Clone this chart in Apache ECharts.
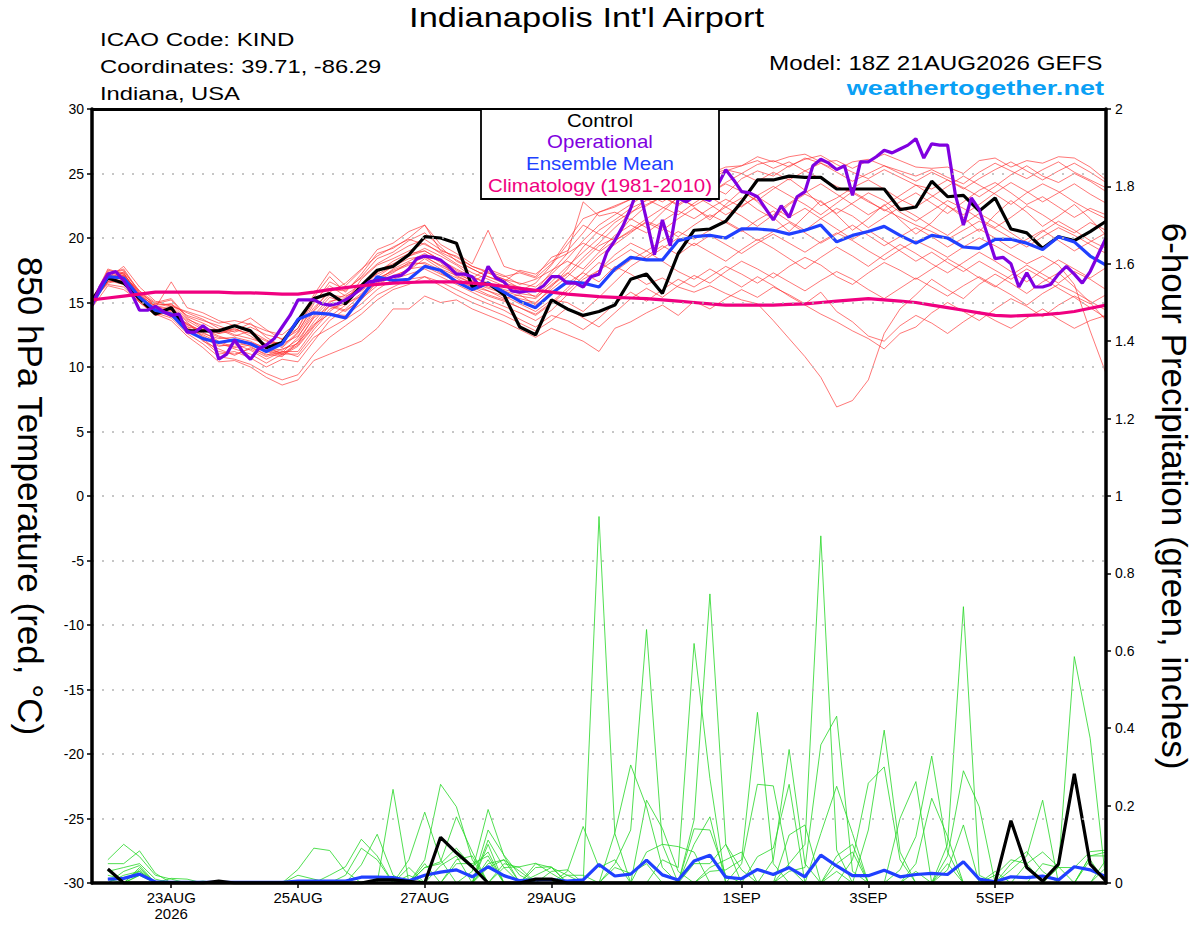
<!DOCTYPE html>
<html><head><meta charset="utf-8">
<script src="https://cdn.jsdelivr.net/npm/echarts@6/dist/echarts.min.js"></script>
<style>html,body{margin:0;padding:0;background:#fff}#c{width:1200px;height:927px}</style>
</head><body><div id="c"></div>
<script>
const FONT = "'Liberation Sans', Arial, Helvetica, sans-serif";

// ---- x axis ticks (hours after 18Z 21AUG2026) ----
const xTickHours = [30, 78, 126, 174, 246, 294, 342];
const xTickLabels = ['23AUG\n2026', '25AUG', '27AUG', '29AUG', '1SEP', '3SEP', '5SEP'];

// ---- 850 hPa temperature, 6-hourly (hour 0..384) ----
const control = [15.2,16.9,16.5,15.3,14.1,14.6,12.8,12.8,12.8,13.2,12.8,11.5,11.9,
 13.6,15.3,15.7,14.9,16.3,17.5,17.8,18.7,20.1,20.0,19.6,16.2,16.5,
 15.6,13.1,12.5,15.2,14.5,14.0,14.3,14.8,16.8,17.2,15.7,18.8,20.6,
 20.7,21.3,22.8,24.5,24.5,24.8,24.7,24.7,23.8,23.8,23.8,23.8,22.2,
 22.4,24.4,23.2,23.3,22.1,23.1,20.7,20.4,19.2,20.1,19.8,20.5,21.3];
const ensMean = [14.8,17.0,16.9,15.4,14.4,14.1,12.8,12.2,11.9,12.1,11.8,11.2,11.8,
 13.7,14.2,14.1,13.8,15.4,17.0,16.7,16.8,17.8,17.5,16.6,16.0,16.5,
 15.8,15.1,14.6,15.7,16.6,16.5,16.2,17.6,18.5,18.3,18.3,19.8,20.1,
 20.2,20.0,20.7,20.7,20.6,20.3,20.6,21.0,19.7,20.2,20.5,20.9,20.2,
 19.6,20.2,20.0,19.3,19.2,19.9,19.9,19.6,19.1,20.1,19.7,18.6,17.9];
const climatology = [15.2,15.35,15.5,15.65,15.8,15.8,15.8,15.8,15.8,15.75,15.75,15.7,15.65,
 15.65,15.8,16.0,16.15,16.3,16.4,16.5,16.55,16.6,16.6,16.6,16.5,16.4,
 16.25,16.1,15.95,15.8,15.65,15.55,15.45,15.4,15.35,15.3,15.2,15.1,15.0,
 14.9,14.8,14.8,14.8,14.8,14.85,14.9,15.0,15.1,15.2,15.3,15.2,15.1,
 15.0,14.8,14.6,14.4,14.2,14.0,13.95,14.0,14.05,14.15,14.3,14.55,14.8];
// operational run, 3-hourly (hour 0..384)
const operational = [14.8,16.2,17.2,17.4,16.7,15.7,14.4,14.4,14.7,14.3,14.0,14.1,12.7,12.7,13.2,12.7,
 10.6,11.0,12.1,11.2,10.6,11.4,11.7,12.2,13.1,14.0,15.2,15.2,15.2,14.9,14.8,14.9,
 15.2,15.6,16.1,16.6,16.7,16.8,17.0,17.1,17.6,18.4,18.6,18.5,18.3,17.8,17.2,17.2,
 17.0,16.2,17.8,16.9,16.6,15.9,15.8,15.9,15.9,16.3,17.0,17.0,16.5,16.5,16.2,17.0,
 17.2,18.9,19.8,20.9,22.3,24.0,21.4,18.7,21.4,19.4,23.1,22.8,23.2,23.1,22.9,24.1,
 25.3,24.5,23.6,23.5,23.2,22.3,21.4,22.5,21.6,23.2,23.6,25.6,26.1,25.8,25.3,25.6,
 23.3,25.9,25.9,26.3,26.8,26.6,26.9,27.2,27.7,26.2,27.3,27.2,27.2,23.3,21.0,23.1,
 22.2,20.3,18.4,18.5,18.0,16.2,17.3,16.2,16.2,16.4,17.2,17.8,17.2,16.5,17.4,18.7,
 20.0];

// ensemble members (20), 6-hourly
const tm1 = [15.1,17.2,17.6,15.8,14.9,15.2,13.8,13.0,12.4,12.0,11.6,10.9,11.4,
 11.8,13.5,15.0,15.6,16.4,17.2,17.8,18.6,19.2,18.6,17.9,17.0,16.4,
 15.8,15.1,14.9,16.2,17.6,19.3,20.6,21.4,22.3,22.9,23.6,24.1,24.6,
 24.9,25.3,25.0,25.7,26.0,25.5,26.2,25.8,25.3,25.9,26.1,25.6,25.2,
 24.8,25.3,24.7,24.2,25.1,25.8,25.2,24.6,25.3,25.9,25.1,24.5,23.9];
const tm2 = [14.8,17.5,17.3,15.4,14.5,14.2,13.3,12.8,12.9,12.4,12.8,12.1,11.5,
 12.6,14.4,16.0,15.9,17.0,18.4,18.9,19.8,20.4,19.3,18.2,17.6,17.0,
 16.5,16.2,15.9,17.4,18.8,22.8,21.7,22.0,21.4,22.5,23.2,22.6,23.5,
 24.0,23.4,24.6,25.2,24.8,25.6,26.1,26.4,25.7,25.1,24.6,25.3,24.7,
 24.1,23.8,24.5,23.9,23.2,24.0,24.9,25.6,24.8,24.3,25.0,24.4,23.6];
const tm3 = [15.3,16.8,17.1,15.6,14.3,14.6,13.5,12.3,11.6,11.8,11.3,10.6,11.2,
 11.2,12.9,14.3,15.2,15.9,16.8,17.5,18.0,18.5,17.9,17.4,16.6,17.3,
 16.8,16.1,15.4,16.3,17.2,18.5,19.6,20.8,21.9,23.0,22.4,21.8,22.7,
 23.5,24.2,23.6,22.9,23.8,24.6,23.7,22.5,23.1,23.9,24.5,23.8,23.0,
 22.4,23.2,24.0,24.8,24.1,23.4,22.6,23.5,24.2,23.6,22.8,22.1,21.5];
const tm4 = [15.0,17.0,16.6,15.2,14.8,14.9,14.0,13.6,13.2,12.7,13.1,12.5,12.2,
 13.0,15.1,16.3,15.5,16.0,17.3,18.2,18.8,19.0,18.3,17.5,16.9,17.6,
 17.1,16.4,16.8,17.5,18.2,17.6,18.9,19.8,20.5,21.2,20.6,21.5,22.3,
 21.6,22.4,23.1,22.2,21.5,22.6,23.4,22.8,21.9,22.7,23.5,22.9,22.0,
 21.3,22.1,22.9,22.3,21.5,20.8,21.6,22.5,21.8,21.0,20.4,21.2,20.6];
const tm5 = [14.9,16.6,17.4,15.9,14.7,14.0,12.9,12.1,11.0,11.2,10.7,10.0,10.6,
 10.4,12.0,13.6,14.5,15.6,16.5,17.0,17.6,17.8,17.2,16.7,16.2,15.6,
 15.2,14.6,14.1,15.0,16.1,17.4,18.6,19.5,20.4,21.3,20.8,20.1,21.0,
 21.8,21.2,20.5,21.4,22.1,21.3,20.6,21.5,22.3,21.7,20.8,21.6,22.4,
 21.7,20.9,20.2,21.1,21.9,21.2,20.4,19.6,20.5,21.3,20.6,19.8,19.2];
const tm6 = [15.2,16.4,16.2,15.0,14.2,13.8,12.6,11.8,10.8,10.6,10.2,9.5,9.0,
 9.4,11.0,12.3,13.2,14.1,15.2,16.0,16.4,17.0,16.3,15.6,15.0,14.5,
 14.0,13.4,12.8,13.6,14.6,13.8,13.1,14.2,15.3,16.1,15.4,16.3,17.1,
 16.5,17.4,18.2,17.6,16.9,17.8,18.5,17.9,17.0,16.4,17.3,18.1,17.5,
 16.8,17.6,18.4,17.7,16.9,16.2,17.1,17.9,17.2,16.5,17.4,16.8,16.0];
const tm7 = [15.0,17.1,16.9,15.5,14.4,14.1,13.0,12.5,11.9,11.4,11.0,10.3,11.0,
 11.0,12.6,13.9,14.8,15.7,16.9,17.4,17.9,18.1,17.5,16.9,16.2,15.9,
 15.3,15.6,14.8,15.7,16.5,17.3,16.6,17.8,17.2,16.4,16.9,16.2,15.8,
 16.3,15.7,15.2,14.9,13.6,12.2,10.8,9.2,6.9,7.4,9.0,12.6,14.5,
 15.6,16.8,16.0,15.3,16.4,17.2,16.5,15.7,16.6,17.3,16.2,15.0,13.6];
const tm8 = [14.7,16.9,17.8,16.2,15.1,14.7,14.3,13.9,13.4,13.6,13.3,12.8,12.5,
 13.5,15.6,17.4,16.3,17.5,19.1,19.6,20.5,21.0,19.5,18.8,18.0,20.6,
 17.8,17.4,17.0,18.5,19.0,20.4,22.0,22.5,23.0,23.8,24.4,24.0,24.8,
 25.0,25.5,25.6,26.3,25.9,26.3,26.5,25.9,26.0,25.4,26.0,26.5,26.0,
 25.5,25.4,25.5,25.0,26.0,26.2,25.5,26.0,25.8,26.3,26.2,25.5,24.5];
const tm9 = [15.4,16.5,16.8,15.3,14.0,14.4,13.2,12.0,11.4,10.9,11.5,11.0,10.8,
 11.9,13.3,14.1,14.0,14.9,16.0,16.8,17.2,17.6,17.0,16.4,15.8,15.2,
 14.7,14.2,13.6,14.4,15.6,16.8,17.5,18.3,19.1,18.4,19.2,20.0,19.4,
 20.2,19.5,18.8,19.6,20.3,19.6,18.9,19.7,20.4,19.8,19.0,18.3,19.1,
 19.8,19.2,18.5,19.3,20.0,19.4,18.7,18.0,18.6,17.9,16.4,12.8,9.5];
const tm10 = [15.1,17.6,17.2,15.7,14.6,16.6,14.6,14.2,13.6,13.2,13.8,12.9,12.1,
 12.8,14.6,15.8,16.5,17.6,18.6,19.3,19.9,19.5,18.9,18.3,17.6,17.0,
 16.6,17.5,17.2,18.2,18.8,19.6,19.0,20.2,21.0,20.4,21.3,22.1,21.5,
 22.3,23.0,22.4,23.3,24.0,23.3,22.6,21.8,22.7,23.6,22.9,22.1,22.8,
 23.5,22.7,21.9,22.8,23.7,24.3,23.5,22.6,23.2,22.4,21.6,22.3,21.8];
const tm11 = [14.6,16.3,16.0,15.1,14.1,13.6,12.4,11.5,10.4,10.5,10.0,9.2,8.6,
 9.0,10.5,11.0,11.5,12.0,13.0,14.5,14.5,15.5,15.0,15.2,14.5,14.0,
 13.5,12.9,12.3,13.0,12.5,12.0,11.2,13.0,13.5,14.2,14.8,14.0,15.1,
 14.5,15.3,16.0,15.4,16.2,15.6,14.9,15.8,14.3,13.5,12.4,12.0,13.2,
 14.0,13.4,12.6,13.5,14.3,13.6,13.0,13.8,14.5,13.7,13.0,13.6,14.0];
const tm12 = [15.3,17.4,17.0,15.9,15.0,15.3,13.9,13.4,12.8,12.9,12.6,12.0,11.8,
 12.4,14.0,15.4,15.0,16.8,17.9,18.4,19.0,19.6,18.8,18.0,17.3,16.8,
 16.3,15.9,16.5,17.9,19.5,21.0,20.3,19.8,20.6,21.5,22.3,23.1,22.5,
 23.2,22.4,21.7,20.9,21.8,22.7,23.5,24.2,23.4,22.6,21.8,22.5,23.3,
 24.1,23.3,22.5,21.8,22.6,23.5,24.3,23.6,22.8,23.5,24.2,23.4,22.7];
const tm13 = [14.9,16.7,16.4,15.3,14.4,13.9,13.1,12.9,12.3,12.1,11.9,11.5,11.3,
 12.1,13.8,14.7,14.3,15.3,16.3,17.1,17.5,18.4,17.6,17.1,16.5,15.9,
 15.5,14.9,14.3,15.2,15.0,14.3,15.4,16.6,17.8,18.6,19.4,18.7,19.6,
 18.9,18.2,19.1,19.9,19.2,18.4,17.6,18.5,19.3,18.6,17.8,18.7,19.5,
 18.8,18.0,17.3,18.1,18.9,18.2,17.4,16.6,17.5,18.3,17.6,16.9,17.7];
const tm14 = [15.0,17.0,16.8,15.0,14.0,14.3,12.8,12.2,11.2,11.0,11.4,10.8,11.2,
 10.8,12.3,13.0,13.7,14.5,15.6,16.2,16.8,17.0,16.6,16.0,15.4,14.9,
 14.4,13.7,13.1,14.0,13.6,12.9,13.8,14.9,15.8,15.1,16.0,16.8,16.2,
 17.0,17.8,17.2,16.5,17.3,16.6,15.9,16.7,17.4,16.8,16.0,15.3,16.1,
 16.9,16.2,15.5,16.3,17.0,16.3,15.6,14.8,15.7,16.4,15.8,15.1,14.4];
const tm15 = [15.2,16.9,17.3,15.5,14.8,14.0,13.4,12.7,12.0,11.5,11.7,11.2,10.9,
 11.6,13.1,14.5,14.9,15.5,16.7,17.3,18.1,18.0,17.3,16.6,16.0,15.5,
 15.1,14.6,14.0,14.9,15.9,17.0,18.1,17.4,18.3,19.0,18.2,17.4,16.8,
 17.6,16.9,16.2,17.0,16.3,15.5,14.8,14.1,13.5,12.8,12.2,11.4,12.6,
 13.1,14.2,15.0,14.3,13.6,14.5,15.3,14.7,13.9,14.8,15.5,14.9,15.6];
const tm16 = [14.8,17.3,17.5,15.7,14.9,14.8,14.2,13.7,13.0,12.5,12.2,11.8,11.9,
 13.0,15.4,17.0,15.8,17.2,18.8,19.2,20.0,21.0,19.0,18.6,17.8,17.4,
 17.0,17.3,16.9,18.0,19.8,21.5,22.0,22.4,23.0,23.4,24.0,24.5,24.1,
 24.6,25.2,25.6,26.0,25.4,25.9,25.2,24.6,24.0,23.5,22.8,22.2,21.6,
 21.0,20.5,19.9,20.6,21.3,20.7,20.0,19.3,20.1,20.8,20.2,19.5,18.8];
const tm17 = [15.1,16.8,17.0,15.4,14.5,14.7,13.6,12.9,12.6,13.0,12.4,11.6,11.0,
 11.7,13.2,14.8,14.4,15.2,16.6,17.6,18.2,18.8,18.1,17.0,16.5,16.1,
 15.7,15.3,15.0,16.0,17.0,18.2,19.4,20.0,21.5,20.8,22.0,23.2,22.4,
 21.4,22.6,23.7,22.8,21.6,20.5,21.7,22.9,21.8,20.6,21.5,22.6,21.4,
 20.3,21.2,22.5,21.6,20.5,21.8,22.9,22.0,20.9,21.7,22.6,21.5,20.2];
const tm18 = [15.0,16.6,16.7,15.1,14.2,14.5,13.0,12.4,11.7,11.6,11.9,11.3,11.0,
 11.9,13.9,15.1,15.3,16.1,17.0,17.8,18.4,18.6,17.8,17.2,16.7,16.2,
 15.9,15.5,15.3,16.4,17.3,16.5,17.5,18.7,19.6,19.0,19.8,20.5,19.9,
 20.6,21.3,20.6,19.8,20.5,21.2,20.4,19.6,20.3,21.0,20.2,19.4,20.1,
 20.8,20.1,19.3,20.0,20.7,20.0,19.2,19.9,20.6,19.8,19.0,19.7,20.4];
const tm19 = [15.3,17.1,17.2,15.6,14.7,14.4,13.3,12.6,12.2,12.3,12.0,11.4,11.1,
 12.3,14.3,15.6,15.4,16.3,17.5,18.0,18.6,19.0,18.3,17.6,17.0,16.5,
 16.0,15.7,15.5,16.6,17.8,18.9,20.0,21.2,22.0,22.6,23.2,22.5,23.3,
 22.6,21.8,22.5,23.2,22.4,21.6,22.3,21.5,20.7,19.9,20.6,19.8,19.0,
 18.2,18.9,18.1,17.4,18.2,17.5,16.8,17.6,16.9,16.1,15.4,14.6,13.8];
const tm20 = [14.9,17.0,17.1,15.3,14.6,14.9,13.7,13.2,12.6,12.8,13.4,12.3,11.6,
 12.7,14.9,16.6,16.0,16.9,18.0,18.7,19.4,19.9,19.1,18.5,17.8,17.3,
 16.8,16.5,16.2,17.2,18.4,19.8,21.0,21.8,22.6,23.4,22.8,23.6,24.2,
 23.5,24.3,25.0,24.4,25.1,24.5,25.2,25.8,25.1,24.4,25.0,25.6,25.0,
 24.4,25.1,24.5,23.8,24.6,25.3,25.9,25.2,24.5,25.2,25.8,25.1,24.3];
const tempMembers = [tm1,tm2,tm3,tm4,tm5,tm6,tm7,tm8,tm9,tm10,tm11,tm12,tm13,tm14,tm15,tm16,tm17,tm18,tm19,tm20];

// ---- 6-hour precipitation (inches), hour 6..384 ----
const precipControl = [0.036,0,0,0,0,0,0,0.005,0,0,0,0,0,0,0,0,
 0,0.008,0.008,0.004,0,0.118,0.078,0.042,0,0,0,0.01,0.01,0,0,0,
 0,0,0,0,0,0,0,0,0,0,0,0,0,0,0,0,
 0,0,0,0,0,0,0,0,0,0.161,0.040,0.005,0.049,0.282,0.049,0.005];
const precipMean = [0.010,0.012,0.023,0.003,0.002,0.002,0.002,0.002,0.002,0.002,0.002,0.002,0.005,0.005,0.005,0.005,
 0.015,0.015,0.014,0.006,0.020,0.028,0.034,0.016,0.042,0.019,0.006,0.008,0.009,0.005,0.008,0.048,
 0.018,0.023,0.059,0.021,0.008,0.057,0.072,0.015,0.011,0.035,0.022,0.040,0.016,0.072,0.044,0.019,
 0.019,0.033,0.016,0.022,0.025,0.022,0.055,0.010,0.003,0.016,0.014,0.018,0.008,0.042,0.034,0.016];
const pm1 = [0.06,0.10,0.068,0.02,0.01,0,0.005,0,0,0,0,0,0,0,0,0,
 0,0,0,0,0,0.045,0.07,0,0,0,0,0,0,0,0,0,
 0.05,0.137,0.655,0.10,0,0,0,0,0,0,0,0,0,0,0,0.06,
 0.258,0.30,0.06,0,0,0,0,0,0,0,0,0,0,0,0,0];
const pm2 = [0.05,0.05,0.083,0.025,0,0,0,0,0,0,0,0,0,0,0,0,
 0,0,0,0,0,0,0.06,0.07,0,0,0,0,0,0,0,0,
 0.04,0.025,0.05,0,0,0,0,0,0,0,0,0,0,0,0,0,
 0.137,0.395,0.08,0,0,0,0,0,0,0,0,0,0,0,0,0];
const pm3 = [0.03,0.04,0.05,0.01,0,0,0,0,0,0,0,0,0,0,0,0,
 0,0,0,0,0,0,0.05,0.05,0.07,0,0,0,0,0,0,0,
 0,0,0.214,0.141,0.03,0,0,0,0,0,0,0,0,0,0,0,
 0,0,0.167,0.262,0,0.05,0,0,0,0,0,0,0,0,0,0];
const pm4 = [0.02,0.01,0.03,0,0,0,0,0,0,0,0,0,0,0,0,0,
 0,0,0,0,0,0,0,0.03,0.19,0.07,0,0,0,0,0,0,
 0,0,0.08,0.10,0.094,0.08,0,0,0,0,0,0,0,0,0,0,
 0,0,0.034,0.12,0.328,0.08,0,0,0,0,0,0,0,0,0,0];
const pm5 = [0.01,0,0.02,0,0,0,0,0,0,0,0,0,0,0,0,0,
 0,0,0,0,0,0,0,0,0.137,0.072,0.02,0,0,0,0,0,
 0,0,0,0.06,0.04,0.619,0.27,0,0,0,0,0,0,0,0,0,
 0,0,0,0.05,0.219,0.12,0,0,0,0,0,0,0,0,0,0];
const pm6 = [0,0.03,0.045,0,0,0,0,0,0,0,0,0,0,0,0,0,
 0,0,0,0,0,0,0,0,0.111,0.04,0,0,0,0,0,0,
 0,0,0,0,0,0.163,0.747,0.10,0,0,0,0,0,0,0,0,
 0,0,0,0.03,0,0.1,0.714,0.02,0,0,0,0,0,0,0,0];
const pm7 = [0,0.02,0.03,0,0,0,0,0,0,0,0,0,0,0,0,0,
 0,0,0,0,0,0,0,0,0.10,0,0,0,0,0,0,0,
 0,0,0,0,0,0.14,0.137,0.02,0,0,0,0,0,0,0,0,
 0,0,0,0,0,0.07,0.29,0.197,0,0,0,0,0,0,0,0];
const pm8 = [0,0,0.04,0,0.012,0.01,0,0,0,0,0,0,0,0,0,0,
 0,0,0,0,0,0,0,0,0.06,0,0,0,0,0,0,0,
 0,0,0,0,0,0.10,0.171,0,0,0,0,0,0,0,0,0,
 0,0,0,0,0,0.034,0.15,0,0.03,0,0,0,0,0,0,0];
const pm9 = [0,0,0.035,0,0,0,0,0,0,0,0,0,0,0,0,0,
 0,0,0,0,0,0,0,0,0.05,0.06,0,0,0,0,0,0,
 0,0,0,0,0,0.05,0.05,0.10,0.034,0,0,0,0,0,0,0,
 0,0,0,0,0,0,0,0,0.02,0.06,0.05,0,0,0,0,0];
const pm10 = [0,0,0.02,0,0,0,0,0,0,0,0,0,0,0,0,0,
 0,0,0,0,0,0,0,0,0.04,0.06,0.03,0,0,0,0,0,
 0,0,0,0,0,0,0.04,0.06,0.08,0,0,0,0,0,0,0,
 0,0,0,0,0,0,0,0,0,0.05,0.081,0.03,0,0,0,0];
const pm11 = [0,0,0,0,0,0,0,0,0,0,0,0,0.035,0.09,0.084,0.03,
 0,0,0,0,0,0,0,0,0,0.05,0.04,0,0,0,0,0,
 0,0,0,0,0,0,0.03,0.034,0.06,0.441,0.05,0,0,0,0,0,
 0,0,0,0,0,0,0,0,0,0.034,0.07,0.214,0,0,0,0];
const pm12 = [0,0,0,0,0,0,0,0,0,0,0,0,0.02,0.01,0,0,
 0,0,0,0,0,0,0,0,0,0.04,0.042,0.051,0.025,0,0,0,
 0,0,0,0,0,0,0,0,0.05,0.255,0.251,0.04,0,0,0,0,
 0,0,0,0,0,0,0,0,0,0,0.05,0.08,0.042,0,0.06,0];
const pm13 = [0,0,0,0,0,0,0,0,0,0,0,0,0,0,0.02,0.042,
 0.113,0.07,0,0.04,0,0,0,0,0,0,0,0.05,0.04,0,0,0,
 0,0,0,0,0,0,0,0,0,0.068,0.09,0.255,0,0,0,0,
 0,0,0,0,0,0,0,0,0,0,0,0.05,0.04,0.585,0.374,0];
const pm14 = [0,0,0,0,0,0,0,0,0,0,0,0,0,0,0,0.02,
 0.09,0.06,0,0.02,0,0,0,0,0,0,0,0.04,0.042,0,0,0,
 0,0,0,0,0,0,0,0,0,0,0.06,0.345,0.05,0,0,0,
 0,0,0,0,0,0,0,0,0,0,0,0,0.04,0.04,0.081,0.085];
const pm15 = [0,0,0,0,0,0,0,0,0,0,0,0,0,0,0,0,
 0.047,0.126,0.02,0,0,0,0,0,0,0,0,0.02,0.04,0.02,0,0,
 0,0,0,0,0,0,0,0,0,0,0,0.124,0.15,0,0.03,0,
 0,0,0,0,0,0,0,0,0,0,0,0,0,0,0.07,0.08];
const pm16 = [0,0,0,0,0,0,0,0,0,0,0,0,0,0,0,0,
 0,0,0.242,0,0.05,0,0,0,0,0,0,0,0.03,0.034,0,0,
 0,0,0,0,0,0,0,0,0,0,0,0.05,0.10,0.897,0.085,0,
 0,0,0,0,0,0,0,0,0,0,0,0,0,0,0.07,0.07];
const pm17 = [0,0,0,0,0,0,0,0,0,0,0,0,0,0,0,0,
 0,0,0,0.06,0.183,0.06,0,0,0,0,0,0,0,0.03,0.146,0.04,
 0.06,0,0,0,0,0,0,0,0,0,0,0.03,0.04,0.357,0.431,0.03,
 0,0,0,0,0,0,0,0,0,0,0,0,0,0,0,0.06];
const pm18 = [0,0,0,0,0,0,0,0,0,0,0,0,0,0,0,0,
 0,0,0,0,0.06,0.255,0.197,0.06,0,0,0,0,0,0.02,0.02,0,
 0,0,0,0,0,0,0,0,0,0,0,0,0,0.128,0.25,0.128,
 0,0,0,0,0,0,0,0,0,0,0,0,0,0,0,0.04];
const pm19 = [0,0,0,0,0,0,0,0,0,0,0,0,0,0,0,0,
 0,0,0,0,0.04,0.055,0.171,0.08,0,0,0,0,0,0,0,0.947,
 0.128,0,0,0,0,0,0,0,0,0,0,0,0,0,0.07,0.1,
 0,0,0,0,0,0,0,0,0,0,0,0,0,0,0,0];
const pm20 = [0,0,0,0,0,0,0,0,0,0,0,0,0,0,0,0,
 0,0,0,0,0.04,0.05,0.09,0.042,0.08,0,0,0,0,0,0,0,
 0.13,0.305,0.197,0.04,0,0,0,0,0,0,0,0,0,0,0.05,0.08,
 0,0,0,0,0,0,0,0,0,0,0,0,0,0,0,0];
const precipMembers = [pm1,pm2,pm3,pm4,pm5,pm6,pm7,pm8,pm9,pm10,pm11,pm12,pm13,pm14,pm15,pm16,pm17,pm18,pm19,pm20];

// ---- chart ----
const C_CTRL = '#000000', C_OPER = '#8000e0', C_MEAN = '#2040ff', C_CLIM = '#f00080';
const temp6 = arr => arr.map((v, i) => [i * 6, v]);
const temp3 = arr => arr.map((v, i) => [i * 3, v]);
const prcp6 = arr => arr.map((v, i) => [(i + 1) * 6, v]);
const base = { type: 'line', symbol: 'none', showSymbol: false, silent: true, animation: false, clip: true, xAxisIndex: 0 };

const series = [];
tempMembers.forEach((m, k) => series.push(Object.assign({}, base, {
  name: 'Member ' + (k + 1), yAxisIndex: 0, data: temp6(m),
  lineStyle: { color: 'rgba(255,45,45,0.72)', width: 0.9 } })));
precipMembers.forEach((m, k) => series.push(Object.assign({}, base, {
  name: 'Precip member ' + (k + 1), yAxisIndex: 1, data: prcp6(m),
  lineStyle: { color: 'rgba(40,215,40,0.9)', width: 0.9 } })));
series.push(Object.assign({}, base, { name: 'Precip mean', yAxisIndex: 1, data: prcp6(precipMean), lineStyle: { color: C_MEAN, width: 3.2 } }));
series.push(Object.assign({}, base, { name: 'Precip control', yAxisIndex: 1, data: prcp6(precipControl), lineStyle: { color: C_CTRL, width: 3.2 } }));
series.push(Object.assign({}, base, { name: 'Control', yAxisIndex: 0, data: temp6(control), lineStyle: { color: C_CTRL, width: 3.2 } }));
series.push(Object.assign({}, base, { name: 'Ensemble Mean', yAxisIndex: 0, data: temp6(ensMean), lineStyle: { color: C_MEAN, width: 3.2 } }));
series.push(Object.assign({}, base, { name: 'Operational', yAxisIndex: 0, data: temp3(operational), lineStyle: { color: C_OPER, width: 3.2 } }));
series.push(Object.assign({}, base, { name: 'Climatology (1981-2010)', yAxisIndex: 0, data: temp6(climatology), lineStyle: { color: C_CLIM, width: 3.2 } }));

function txt(x, y, text, size, color, align, sx, bold) {
  return { type: 'text', x: x, y: y, scaleX: sx, scaleY: 1, z: 100, silent: true,
    style: { text: text, fill: color, font: (bold ? 'bold ' : '') + size + 'px ' + FONT,
      textAlign: align, align: align, textVerticalAlign: 'middle', verticalAlign: 'middle' } };
}

const option = {
  backgroundColor: '#ffffff',
  animation: false,
  grid: { left: 92, right: 94, top: 109, bottom: 44, show: false, containLabel: false, outerBoundsMode: 'none' },
  xAxis: [{
    type: 'value', min: 0, max: 384, position: 'bottom', z: 10,
    axisLine: { show: true, onZero: false, lineStyle: { color: '#000', width: 3.5 } },
    axisTick: { show: true, customValues: xTickHours, length: 5, inside: false, lineStyle: { color: '#000', width: 1.5 } },
    axisLabel: { customValues: xTickHours, color: '#000', fontSize: 15, fontFamily: FONT, margin: 6, lineHeight: 16,
      formatter: v => { const k = xTickHours.indexOf(Math.round(v)); return k >= 0 ? xTickLabels[k] : ''; } },
    splitLine: { show: false }
  }, {
    type: 'value', min: 0, max: 384, position: 'top', z: 10,
    axisLine: { show: true, onZero: false, lineStyle: { color: '#000', width: 3 } },
    axisTick: { show: false }, axisLabel: { show: false }, splitLine: { show: false }
  }],
  yAxis: [
    { type: 'value', min: -30, max: 30, interval: 5, position: 'left', z: 10,
      name: '850 hPa Temperature (red, °C)', nameLocation: 'middle', nameRotate: -90, nameGap: 44,
      nameTextStyle: { fontSize: 35, color: '#000', fontFamily: FONT },
      axisLine: { show: true, onZero: false, lineStyle: { color: '#000', width: 3.5 } },
      axisTick: { show: true, length: 5, lineStyle: { color: '#000', width: 1.5 } },
      axisLabel: { color: '#000', fontSize: 14, fontFamily: FONT, margin: 8 },
      splitLine: { show: true, lineStyle: { color: '#b4b4b4', width: 1.5, type: [2, 8] } } },
    { type: 'value', min: 0, max: 2, interval: 0.2, position: 'right', z: 10,
      name: '6-hour Precipitation (green, inches)', nameLocation: 'middle', nameRotate: -90, nameGap: 51,
      nameTextStyle: { fontSize: 35, color: '#000', fontFamily: FONT },
      axisLine: { show: true, onZero: false, lineStyle: { color: '#000', width: 3.5 } },
      axisTick: { show: true, length: 5, lineStyle: { color: '#000', width: 1.5 } },
      axisLabel: { color: '#000', fontSize: 14, fontFamily: FONT, margin: 9 },
      splitLine: { show: false } }
  ],
  graphic: [
    txt(586.5, 18, "Indianapolis Int'l Airport", 28, '#000', 'center', 1.23),
    txt(100, 39.5, 'ICAO Code: KIND', 19, '#000', 'left', 1.27),
    txt(100, 67, 'Coordinates: 39.71, -86.29', 19, '#000', 'left', 1.25),
    txt(100, 94, 'Indiana, USA', 19, '#000', 'left', 1.25),
    txt(1102.5, 63.5, 'Model: 18Z 21AUG2026 GEFS', 20, '#000', 'right', 1.21),
    txt(1104, 88, 'weathertogether.net', 21, '#0aa0f5', 'right', 1.29, true),
    { type: 'rect', z: 99, silent: true, shape: { x: 481, y: 109, width: 238, height: 90 },
      style: { fill: '#ffffff', stroke: '#000', lineWidth: 1.8 } },
    txt(600, 121, 'Control', 17.5, C_CTRL, 'center', 1.17),
    txt(600, 142.5, 'Operational', 17.5, C_OPER, 'center', 1.17),
    txt(600, 164, 'Ensemble Mean', 17.5, C_MEAN, 'center', 1.17),
    txt(600, 186, 'Climatology (1981-2010)', 17.5, C_CLIM, 'center', 1.17)
  ],
  series: series
};

const chart = echarts.init(document.getElementById('c'), null, { renderer: 'svg', width: 1200, height: 927 });
chart.setOption(option);
</script></body></html>
